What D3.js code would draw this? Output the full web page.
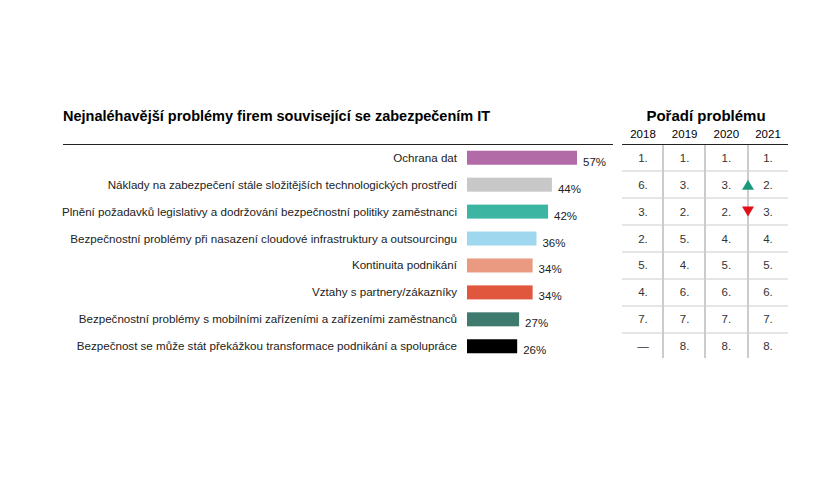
<!DOCTYPE html>
<html><head><meta charset="utf-8">
<script src="https://cdn.jsdelivr.net/npm/d3@7"></script>
<style>body{margin:0;background:#fff}text{font-family:"Liberation Sans",Arial,sans-serif}</style>
</head><body><div id="chart"></div>
<script>
// data
var categories = [
  "Ochrana dat",
  "Náklady na zabezpečení stále složitějších technologických prostředí",
  "Plnění požadavků legislativy a dodržování bezpečnostní politiky zaměstnanci",
  "Bezpečnostní problémy při nasazení cloudové infrastruktury a outsourcingu ",
  "Kontinuita podnikání",
  "Vztahy s partnery/zákazníky",
  "Bezpečnostní problémy s mobilními zařízeními a zařízeními zaměstnanců",
  "Bezpečnost se může stát překážkou transformace podnikání a spolupráce"
];
var values = [57, 44, 42, 36, 34, 34, 27, 26];
var colors = ["#b36ba8", "#c8c8c8", "#3db5a3", "#9fd8ee", "#e99a80", "#e0573e", "#3f7a6e", "#000000"];
var years = ["2018", "2019", "2020", "2021"];
var ranks = [
  ["1.", "1.", "1.", "1."],
  ["6.", "3.", "3.", "2."],
  ["3.", "2.", "2.", "3."],
  ["2.", "5.", "4.", "4."],
  ["5.", "4.", "5.", "5."],
  ["4.", "6.", "6.", "6."],
  ["7.", "7.", "7.", "7."],
  ["—", "8.", "8.", "8."]
];
var arrows = [null, "up", "down", null, null, null, null, null];

var svg = d3.select("#chart").append("svg").attr("width", 840).attr("height", 480);

var x = d3.scaleLinear().domain([0, 57]).range([467, 577]);
var y = d3.scaleBand().domain(d3.range(categories.length)).range([144, 360]).paddingInner(0.48).paddingOuter(0.25);

svg.append("text").attr("x", 63).attr("y", 121).attr("font-size", 14.5).attr("font-weight", "bold")
  .text("Nejnaléhavější problémy firem související se zabezpečením IT");
svg.append("line").attr("x1", 63).attr("x2", 613).attr("y1", 144.5).attr("y2", 144.5).attr("stroke", "#222");

var rows = svg.selectAll(".row").data(values).enter().append("g");
rows.append("rect").attr("x", x(0)).attr("y", (d, i) => y(i))
  .attr("width", d => x(d) - x(0)).attr("height", y.bandwidth()).attr("fill", (d, i) => colors[i]);
rows.append("text").attr("x", 457).attr("y", (d, i) => y(i) + y.bandwidth() / 2 + 4)
  .attr("text-anchor", "end").attr("font-size", 11.6).attr("fill", "#222").text((d, i) => categories[i]);
rows.append("text").attr("x", d => x(d) + 6).attr("y", (d, i) => y(i) + y.bandwidth() + 1)
  .attr("font-size", 11.5).attr("fill", "#222").text(d => d + "%");

// ranking table
var cx = d3.scalePoint().domain(years).range([643, 768]);
var t = svg.append("g");
t.append("text").attr("x", 706).attr("y", 121).attr("text-anchor", "middle").attr("font-size", 15)
  .attr("font-weight", "bold").text("Pořadí problému");
t.selectAll(".yr").data(years).enter().append("text").attr("x", d => cx(d)).attr("y", 138)
  .attr("text-anchor", "middle").attr("font-size", 11.5).text(d => d);
t.append("line").attr("x1", 622).attr("x2", 788).attr("y1", 144.5).attr("y2", 144.5).attr("stroke", "#222");
[663, 705, 748].forEach(function (vx) {
  t.append("line").attr("x1", vx).attr("x2", vx).attr("y1", 145).attr("y2", 358).attr("stroke", "#999");
});
var rowH = 216 / 8;
d3.range(1, 8).forEach(function (i) {
  t.append("line").attr("x1", 622).attr("x2", 788).attr("y1", 144 + i * rowH).attr("y2", 144 + i * rowH)
    .attr("stroke", "#ccc");
});
ranks.forEach(function (r, i) {
  t.selectAll(null).data(r).enter().append("text").attr("x", (d, j) => cx(years[j]))
    .attr("y", y(i) + y.bandwidth() / 2 + 4).attr("text-anchor", "middle").attr("font-size", 11.5)
    .attr("fill", "#333").text(d => d);
  if (arrows[i]) {
    var cy = y(i) + y.bandwidth() / 2;
    var p = arrows[i] === "up" ? [[742, cy + 5], [754, cy + 5], [748, cy - 5]] : [[742, cy - 5], [754, cy - 5], [748, cy + 5]];
    t.append("path").attr("d", d3.line()(p) + "Z").attr("fill", arrows[i] === "up" ? "#1a9a7a" : "#e0101a");
  }
});
</script></body></html>
